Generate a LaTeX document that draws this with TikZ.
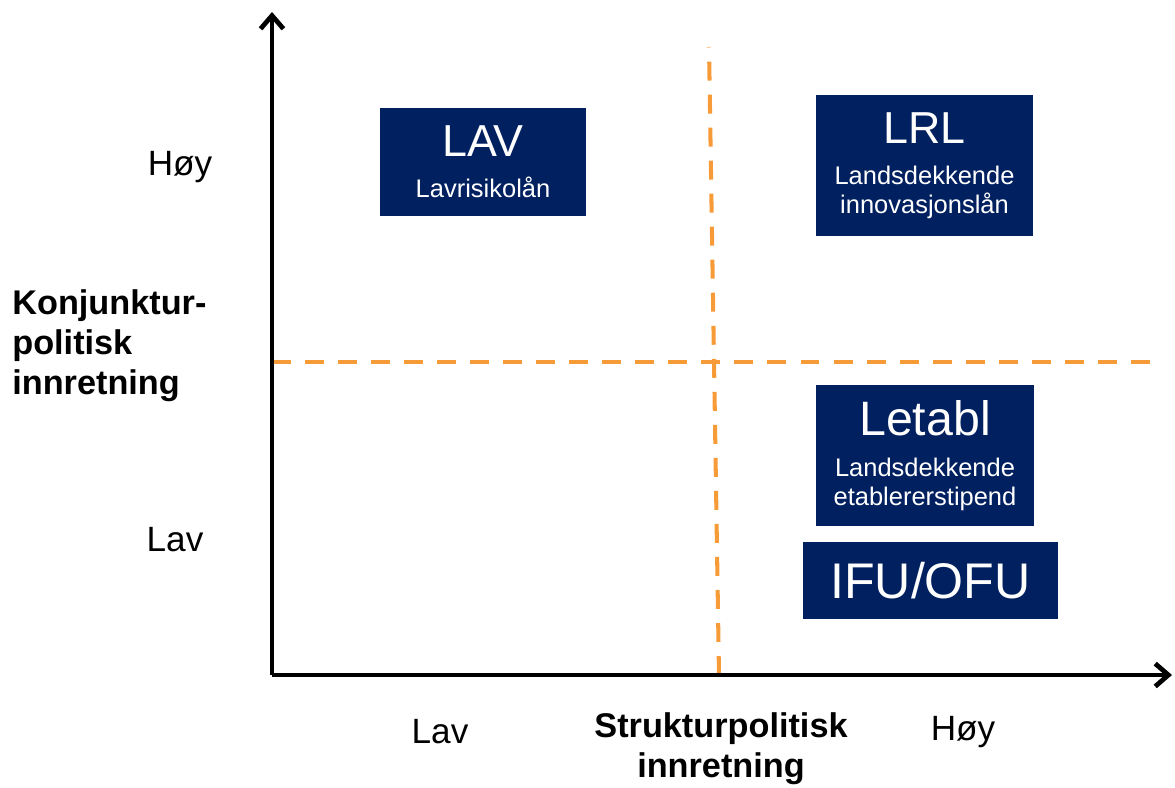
\documentclass[tikz,border=0pt]{standalone}
\usepackage{fontspec}
\setmainfont{Liberation Sans}
\usetikzlibrary{arrows.meta}

\definecolor{boxblue}{RGB}{0,32,96}
\definecolor{dashorange}{RGB}{247,154,56}

\tikzset{
  axis/.style={line width=2.7pt, -{Straight Barb[length=7.5pt,width=13pt]}},
  split/.style={dashorange, line width=2.3pt, dash pattern=on 10.8pt off 8pt},
  prog/.style={fill=boxblue, text=white, align=center, inner sep=0pt,
    font=\fontsize{14.5}{16.5}\selectfont},
  level/.style={font=\fontsize{20}{24}\selectfont},
  title/.style={font=\fontsize{19.5}{22.7}\selectfont\bfseries},
}
\newcommand{\progname}[1]{{\fontsize{25.5}{30}\selectfont #1}}

\begin{document}
\begin{tikzpicture}[x=0.02cm, y=-0.02cm]
\useasboundingbox (0,0) rectangle (1175,787);
%
\coordinate (o) at (272,675);
\coordinate (ytop) at (272,12);
\coordinate (xend) at (1172,675);
\coordinate (h1) at (272,362);
\coordinate (h2) at (1155,362);
\coordinate (v1) at (709,47);
\coordinate (v2) at (719,675);
%
\draw [split] (h1) -- (h2);
\draw [split] (v2) -- (v1);
\draw [axis] (o) -- (ytop);
\draw [axis] (o) -- (xend);
%
\node [prog, minimum width=4.12cm, minimum height=2.16cm] (lav) at (483,162)
  {\progname{LAV}\\[7pt] Lavrisikolån};
\node [prog, minimum width=4.34cm, minimum height=2.82cm] (lrl) at (924.5,165.5)
  {\progname{LRL}\\[7pt] Landsdekkende\\ innovasjonslån};
\node [prog, minimum width=4.36cm, minimum height=2.82cm] (letabl) at (925,455.5)
  {{\fontsize{27.5}{32}\selectfont Letabl}\\[7pt] Landsdekkende\\ etablererstipend};
\node [prog, minimum width=5.1cm, minimum height=1.54cm] (ifu) at (930.5,580.5)
  {\fontsize{28.5}{34}\selectfont IFU/OFU};
%
\node [level] (yhigh) at (180,167) {Høy};
\node [level] (ylow) at (175,540) {Lav};
\node [level] (xlow) at (440,732) {Lav};
\node [level] (xhigh) at (963,732) {Høy};
%
\node [title, align=left, anchor=west, inner sep=0pt] (ylabel) at (12,346)
  {Konjunktur-\\politisk\\innretning};
\node [title, align=center, inner sep=0pt] (xlabel) at (721,749)
  {Strukturpolitisk\\innretning};
\end{tikzpicture}
\end{document}
